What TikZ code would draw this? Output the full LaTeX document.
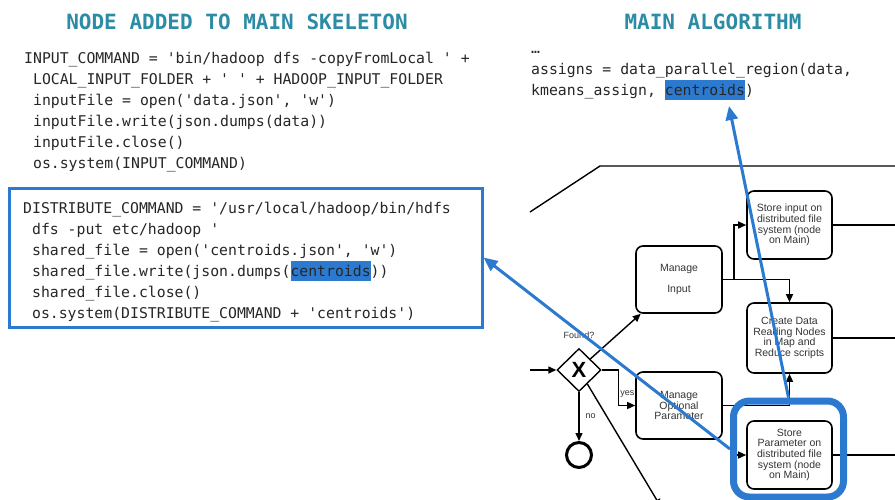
\documentclass[tikz,border=0pt]{standalone}
\usepackage{fontspec}
\setmonofont{DejaVu Sans Mono}
\setsansfont{Liberation Sans}
\usetikzlibrary{arrows.meta}
\usetikzlibrary{shapes.geometric}
\usetikzlibrary{positioning}
\definecolor{titleteal}{RGB}{45,140,165}
\definecolor{hiblue}{RGB}{43,122,208}
\definecolor{codeink}{RGB}{38,38,38}
\definecolor{taskink}{RGB}{51,51,51}
\newcommand{\hlword}[1]{{\fboxsep=0pt\colorbox{hiblue}{\rule[-4.3pt]{0pt}{20pt}#1}}}

\begin{document}
\begin{tikzpicture}[x=1pt, y=-1pt,
headline/.style={anchor=base, inner sep=0pt, text=titleteal, font=\ttfamily\bfseries\fontsize{21}{21}\selectfont},
codeline/.style={anchor=base west, inner sep=0pt, text=codeink, font=\ttfamily\fontsize{14.8}{17}\selectfont},
task/.style={draw, line width=1.6pt, rounded corners=7pt, minimum width=85pt, minimum height=68pt, align=center,
  inner sep=1pt, text=taskink, font=\sffamily\fontsize{10.5}{10.7}\selectfont},
lbl/.style={inner sep=1pt, text=taskink, font=\sffamily\fontsize{9}{10}\selectfont},
flow/.style={line width=1.4pt, -{Triangle[length=8pt,width=7pt]}},
lane/.style={line width=1.4pt},
blueflow/.style={draw=hiblue, line width=3pt, -{Triangle[length=14pt,width=12pt]}}]
\useasboundingbox (0,0) rectangle (895,499);

\node[headline] (lefttitle) at (237,29) {NODE ADDED TO MAIN SKELETON};
\node[headline] (righttitle) at (713,29) {MAIN ALGORITHM};

\foreach \txt [count=\i from 0] in {{INPUT\_COMMAND = 'bin/hadoop dfs -copyFromLocal ' +},
  {\ LOCAL\_INPUT\_FOLDER + ' ' + HADOOP\_INPUT\_FOLDER}, {\ inputFile = open('data.json', 'w')},
  {\ inputFile.write(json.dumps(data))}, {\ inputFile.close()}, {\ os.system(INPUT\_COMMAND)}}
  \node[codeline] (skel\i) at (24, 63.4+21.1*\i) {\txt};

\node[draw=hiblue, line width=3pt, minimum width=473pt, minimum height=139pt, inner sep=0pt] (distbox) at (245.5,257.5) {};
\foreach \txt [count=\i from 0] in {{DISTRIBUTE\_COMMAND = '/usr/local/hadoop/bin/hdfs},
  {\ dfs -put etc/hadoop '}, {\ shared\_file = open('centroids.json', 'w')},
  {\ shared\_file.write(json.dumps(\hlword{centroids}))}, {\ shared\_file.close()},
  {\ os.system(DISTRIBUTE\_COMMAND + 'centroids')}}
  \node[codeline] (dist\i) at (23, 213.4+21.1*\i) {\txt};

\node[codeline] (main0) at (531,53.3) {…};
\node[codeline] (main1) at (531,74.4) {assigns = data\_parallel\_region(data,};
\node[codeline] (main2) at (531,95.5) {kmeans\_assign, \hlword{centroids})};

\coordinate (laneA) at (530,212);
\coordinate (laneB) at (600,166);
\coordinate (rside) at (900,0);
\draw[lane] (laneA) -- (laneB) -- (laneB -| rside);

\node[task] (storein) at (789.5,225) {Store input on\\distributed file\\system (node\\on Main)};
\node[task, minimum width=86pt, minimum height=67pt] (mngin) at (679,279.5) {Manage\\[10.5pt]Input};
\node[task, minimum height=70pt] (create) at (789.5,338) {Create Data\\Reading Nodes\\in Map and\\Reduce scripts};
\node[task, minimum width=86pt, minimum height=67pt] (mngopt) at (679,405.5) {Manage\\Optional\\Parameter};
\node[task] (storepar) at (789.5,455) {Store\\Parameter on\\distributed file\\system (node\\on Main)};
\node[diamond, draw, line width=1.4pt, minimum width=44pt, minimum height=43pt, inner sep=0pt,
  font=\sffamily\bfseries\fontsize{22}{22}\selectfont] (gate) at (579,370) {X};
\node[lbl, above=8pt of gate] (found) {Found?};
\node[circle, draw, line width=3pt, minimum size=25pt, inner sep=0pt] (endev) at (579,455) {};

\coordinate (inflow) at (530,370);
\coordinate (lowexit) at (661,507);
\coordinate (parin) at (733,455);
\draw[flow] (inflow) -- (gate);
\draw[flow] (gate.north east) -- (mngin);
\draw[flow] (gate.east) -- ++(17,0) |- node[lbl, pos=0.34, right=0pt] (yeslbl) {yes} (mngopt.west);
\draw[flow] (gate.south) -- node[lbl, right=5pt] (nolbl) {no} (endev);
\draw[flow] (gate) -- (lowexit);
\draw[flow] (mngin.east) -- ++(11,0) |- (storein.west);
\draw[flow] (mngin.east) -| (create.north);
\draw[flow] (mngopt.east) -| (create.south);
\draw[flow] (parin) -- (storepar.west);
\draw[lane] (storein.east) -- (storein.east -| rside);
\draw[lane] (create.east) -- (create.east -| rside);
\draw[lane] (storepar.east) -- (storepar.east -| rside);

\node[draw=hiblue, line width=7pt, rounded corners=16pt, minimum width=110pt, minimum height=96pt] (paramhl) at (788.5,449) {};
\coordinate (centtip) at (729,106);
\draw[blueflow] (paramhl.north) -- (centtip);
\draw[blueflow] (paramhl.west) -- (distbox.east);
\end{tikzpicture}
\end{document}
